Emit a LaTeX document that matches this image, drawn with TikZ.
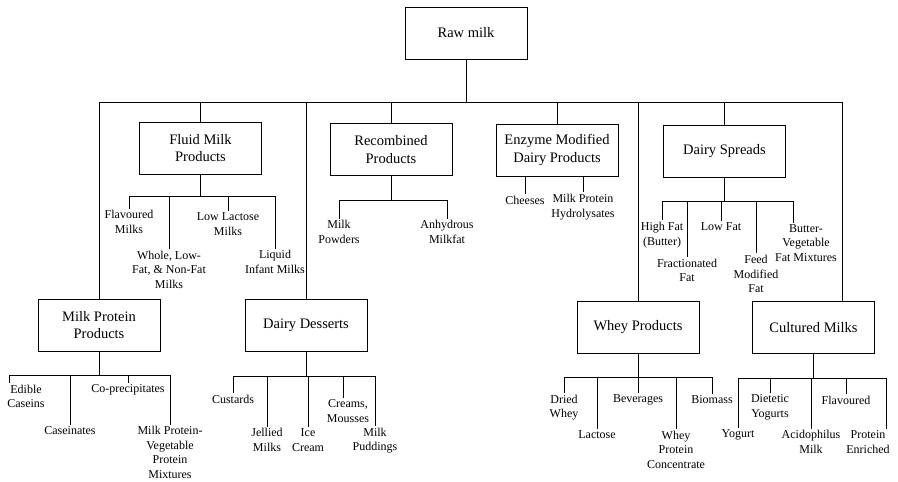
\documentclass[tikz,border=0pt]{standalone}
\usepackage{fontspec}
\setmainfont{Liberation Serif}
\begin{document}
\begin{tikzpicture}[x=1pt,y=-1pt,
  line width=0.8pt,
  catbox/.style={draw,line width=0.9pt,minimum width=122pt,minimum height=52pt,align=center,inner sep=2pt,
    font=\fontsize{14.5pt}{17.5pt}\selectfont},
  leaf/.style={align=center,inner sep=1.5pt,font=\fontsize{12pt}{14.5pt}\selectfont}]
\useasboundingbox (0,0) rectangle (898,482);
% category boxes
\node[catbox] (raw) at (466,33) {Raw milk};
\node[catbox] (fluid) at (200.5,148) {Fluid Milk\\Products};
\node[catbox] (recomb) at (391,149.5) {Recombined\\Products};
\node[catbox] (enzyme) at (557,150) {Enzyme Modified\\Dairy Products};
\node[catbox] (spreads) at (724.5,151) {Dairy Spreads};
\node[catbox] (mpp) at (99,325) {Milk Protein\\Products};
\node[catbox] (desserts) at (306,325) {Dairy Desserts};
\node[catbox] (whey) at (638,327) {Whey Products};
\node[catbox] (cultured) at (813.5,327.5) {Cultured Milks};
% leaves: fluid milk
\node[leaf] (flav) at (129,222) {Flavoured\\Milks};
\node[leaf] (whole) at (169,269.5) {Whole, Low-\\Fat, \& Non-Fat\\Milks};
\node[leaf] (lowlac) at (228,224) {Low Lactose\\Milks};
\node[leaf] (liquid) at (275,262) {Liquid\\Infant Milks};
% recombined
\node[leaf] (powders) at (339,232) {Milk\\Powders};
\node[leaf] (anhyd) at (447,232) {Anhydrous\\Milkfat};
% enzyme
\node[leaf] (cheeses) at (525,200) {Cheeses};
\node[leaf] (hydro) at (583,207) {Milk Protein\\Hydrolysates};
% spreads
\node[leaf] (highfat) at (662,235) {High Fat\\(Butter)};
\node[leaf] (fract) at (687,270.5) {Fractionated\\Fat};
\node[leaf] (lowfat) at (721,227) {Low Fat};
\node[leaf] (feed) at (756,274) {Feed\\Modified\\Fat};
\node[leaf] (butter) at (806,243) {Butter-\\Vegetable\\Fat Mixtures};
% milk protein products
\node[leaf] (edible) at (26,396.5) {Edible\\Caseins};
\node[leaf] (caseinates) at (70,431) {Caseinates};
\node[leaf] (coprec) at (128,390) {Co-precipitates};
\node[leaf] (mpveg) at (170,452.5) {Milk Protein-\\Vegetable\\Protein\\Mixtures};
% desserts
\node[leaf] (custards) at (233,399) {Custards};
\node[leaf] (jellied) at (267,440) {Jellied\\Milks};
\node[leaf] (ice) at (308,440) {Ice\\Cream};
\node[leaf] (creams) at (348,411) {Creams,\\Mousses};
\node[leaf] (puddings) at (375,440.5) {Milk\\Puddings};
% whey
\node[leaf] (dried) at (564,407.5) {Dried\\Whey};
\node[leaf] (lactose) at (597,435) {Lactose};
\node[leaf] (beverages) at (638,400) {Beverages};
\node[leaf] (wpc) at (676,449.5) {Whey\\Protein\\Concentrate};
\node[leaf] (biomass) at (712,400) {Biomass};
% cultured
\node[leaf] (yogurt) at (738,435) {Yogurt};
\node[leaf] (dietetic) at (770,407.5) {Dietetic\\Yogurts};
\node[leaf] (acido) at (811,442) {Acidophilus\\Milk};
\node[leaf] (flav2) at (846,400) {Flavoured};
\node[leaf] (protein) at (868,442) {Protein\\Enriched};
% bus coordinates
\coordinate (bus) at (466,102);
\coordinate (culttop) at ([xshift=28.5pt]cultured.north);
\coordinate (fb) at (200,196);
\coordinate (rb) at (391,200);
\coordinate (sb) at (724,201);
\coordinate (mb) at (99,375);
\coordinate (db) at (306,376);
\coordinate (wb) at (638,377);
\coordinate (cb) at (813,378);
\coordinate (ediblex) at ([xshift=-17pt]edible.north);
\coordinate (creamsx) at ([xshift=-5pt]creams.north);
\coordinate (butterx) at ([xshift=-13pt]butter.north);
\coordinate (proteinx) at ([xshift=18pt]protein.north);
% main tree
\draw (raw.south) -- (bus);
\draw (mpp.north |- bus) -- (culttop |- bus);
\foreach \n in {mpp,fluid,desserts,recomb,enzyme,whey,spreads}
  \draw (\n.north |- bus) -- (\n.north);
\draw (culttop |- bus) -- (culttop);
% fluid
\draw (fluid.south) -- (fluid.south |- fb);
\draw (flav.north |- fb) -- (liquid.north |- fb);
\foreach \n in {flav,whole,lowlac,liquid} \draw (\n.north |- fb) -- (\n.north);
% recombined
\draw (recomb.south) -- (recomb.south |- rb);
\draw (powders.north |- rb) -- (anhyd.north |- rb);
\foreach \n in {powders,anhyd} \draw (\n.north |- rb) -- (\n.north);
% enzyme
\foreach \n in {cheeses,hydro} \draw (\n.north |- enzyme.south) -- (\n.north);
% spreads
\draw (spreads.south) -- (spreads.south |- sb);
\draw (highfat.north |- sb) -- (butterx |- sb);
\foreach \n in {highfat,fract,lowfat,feed} \draw (\n.north |- sb) -- (\n.north);
\draw (butterx |- sb) -- (butterx);
% milk protein
\draw (mpp.south) -- (mpp.south |- mb);
\draw (ediblex |- mb) -- (mpveg.north |- mb);
\draw (ediblex |- mb) -- (ediblex);
\foreach \n in {caseinates,coprec,mpveg} \draw (\n.north |- mb) -- (\n.north);
% desserts
\draw (desserts.south) -- (desserts.south |- db);
\draw (custards.north |- db) -- (puddings.north |- db);
\foreach \n in {custards,jellied,ice,puddings} \draw (\n.north |- db) -- (\n.north);
\draw (creamsx |- db) -- (creamsx);
% whey
\draw (whey.south) -- (whey.south |- wb);
\draw (dried.north |- wb) -- (biomass.north |- wb);
\foreach \n in {dried,lactose,beverages,wpc,biomass} \draw (\n.north |- wb) -- (\n.north);
% cultured
\draw (cultured.south) -- (cultured.south |- cb);
\draw (yogurt.north |- cb) -- (proteinx |- cb);
\foreach \n in {yogurt,dietetic,acido,flav2} \draw (\n.north |- cb) -- (\n.north);
\draw (proteinx |- cb) -- (proteinx);
\end{tikzpicture}
\end{document}
